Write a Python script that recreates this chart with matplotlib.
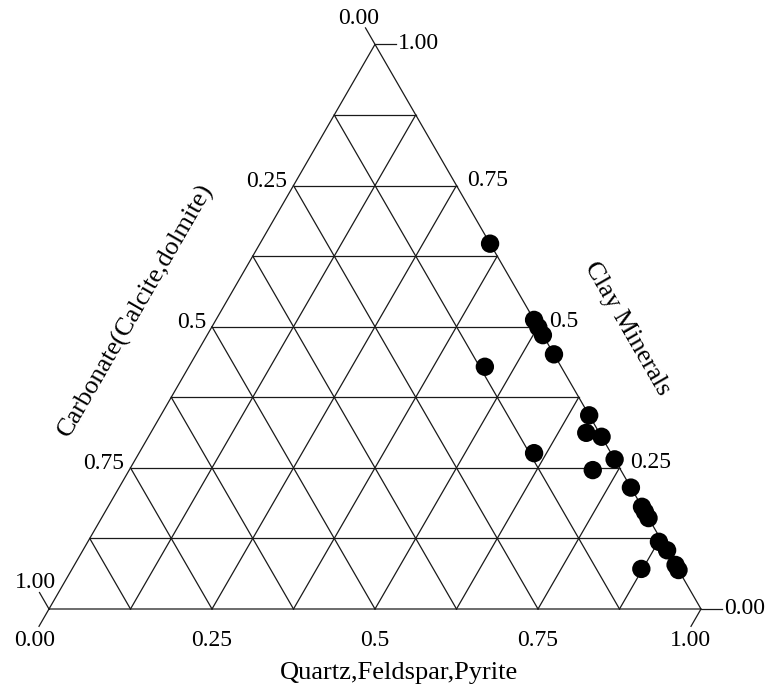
import numpy as np
import matplotlib
matplotlib.use("Agg")
import matplotlib.pyplot as plt

plt.rcParams['font.family'] = ['Liberation Serif', 'DejaVu Serif']

# sample compositions (fractions)
clay = [0.647, 0.512, 0.499, 0.485, 0.451, 0.429, 0.343, 0.312, 0.305, 0.276, 0.265,
        0.246, 0.215, 0.181, 0.172, 0.161, 0.119, 0.104, 0.078, 0.069, 0.071]
carbonate = [0.0, 0.0, 0.0, 0.0, 0.0, 0.117, 0.0, 0.020, 0.0, 0.118, 0.0,
             0.043, 0.0, 0.0, 0.0, 0.0, 0.005, 0.0, 0.0, 0.0, 0.056]
quartz = [0.353, 0.488, 0.501, 0.515, 0.549, 0.454, 0.657, 0.668, 0.695, 0.606, 0.735,
          0.711, 0.785, 0.819, 0.828, 0.839, 0.876, 0.896, 0.922, 0.931, 0.873]

tick_vals = [0.0, 0.25, 0.5, 0.75, 1.0]
tick_text = ["0.00", "0.25", "0.5", "0.75", "1.00"]
n_div = 8

H = np.sqrt(3) / 2
PX = 652.0  # pixels per unit side
LC = "#1a1a1a"
LW = 0.9


def tern(q, c):
    q = np.asarray(q, dtype=float)
    c = np.asarray(c, dtype=float)
    return q + c / 2, c * H


def px(dx, dy):
    # pixel offset (dy positive = down) -> data offset
    return dx / PX, -dy / PX


fig = plt.figure(figsize=(7.76, 6.95), dpi=100)
ax = fig.add_axes([0, 0, 1, 1])
ax.set_xlim(-49 / PX, (776 - 49) / PX)
ax.set_ylim(-(695 - 609) / PX, 609 / PX)
ax.axis("off")

# outline
x, y = tern([0, 1, 0, 0], [0, 0, 1, 0])
ax.plot(x, y, color=LC, lw=LW, solid_joinstyle="miter")

# grid
for k in range(1, n_div):
    f = k / n_div
    x, y = tern([0, 1 - f], [f, f])          # constant clay
    ax.plot(x, y, color=LC, lw=LW)
    x, y = tern([f, f], [0, 1 - f])          # constant quartz
    ax.plot(x, y, color=LC, lw=LW)
    x, y = tern([1 - f, 0], [0, 1 - f])      # constant carbonate
    ax.plot(x, y, color=LC, lw=LW)

# end ticks
L = 20 / PX
for c in [0.0, 1.0]:  # clay: horizontal to the right
    x0, y0 = tern(1 - c, c)
    ax.plot([x0, x0 + L * 1.05], [y0, y0], color=LC, lw=LW)
for b in [0.0, 1.0]:  # carbonate: up-left
    x0, y0 = tern(0, 1 - b)
    ax.plot([x0, x0 - 0.5 * L * 0.95], [y0, y0 + H * L * 0.95], color=LC, lw=LW)
for q in [0.0, 1.0]:  # quartz: down-left
    x0, y0 = tern(q, 0)
    ax.plot([x0, x0 - 0.5 * L], [y0, y0 - H * L], color=LC, lw=LW)

FS = 17
# clay labels (right edge)
for v, t in zip(tick_vals, tick_text):
    x0, y0 = tern(1 - v, v)
    if v in (0.0, 1.0):
        dx, dy = px(23, -1)
    else:
        dx, dy = px(11, -5)
    ax.text(x0 + dx, y0 + dy, t, ha="left", va="center", fontsize=FS)

# carbonate labels (left edge)
for v, t in zip(tick_vals, tick_text):
    x0, y0 = tern(0, 1 - v)
    if v == 0.0:
        dx, dy = px(-16, -26)
        ha = "center"
    elif v == 1.0:
        dx, dy = px(-14, -26)
        ha = "center"
    else:
        dx, dy = px(-6, -4)
        ha = "right"
    ax.text(x0 + dx, y0 + dy, t, ha=ha, va="center", fontsize=FS)

# quartz labels (bottom edge)
for v, t in zip(tick_vals, tick_text):
    x0, y0 = tern(v, 0)
    if v == 0.0:
        dx, dy = px(-14, 31)
    elif v == 1.0:
        dx, dy = px(-11, 31)
    else:
        dx, dy = px(0, 31)
    ax.text(x0 + dx, y0 + dy, t, ha="center", va="center", fontsize=FS)

# axis titles
FT = 19
xq, yq = tern(0.5, 0)
ax.text(xq + 24 / PX, yq - 64 / PX, "Quartz,Feldspar,Pyrite", ha="center", va="center", fontsize=FT)
xl, yl = tern(0, 0.5)
ax.text(xl - 76 / PX, yl + 16 / PX, "Carbonate(Calcite,dolmite)", ha="center", va="center",
        rotation=60, rotation_mode="anchor", fontsize=FT)
xr, yr = tern(0.5, 0.5)
ax.text(xr + 89 / PX, yr - 2 / PX, "Clay Minerals", ha="center", va="center",
        rotation=-60, rotation_mode="anchor", fontsize=FT)

# samples
xs, ys = tern(quartz, clay)
ax.scatter(xs, ys, s=175, color="black", edgecolors="none", zorder=3)

fig.savefig("out.png", dpi=100)
